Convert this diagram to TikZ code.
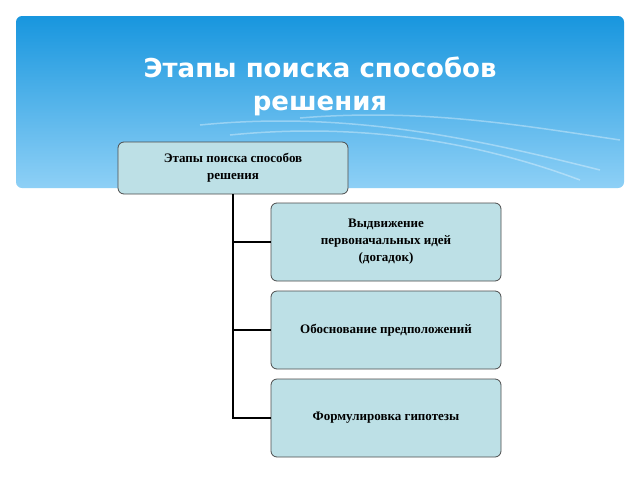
\documentclass[tikz,border=0pt]{standalone}
\usepackage{fontspec}
\setmainfont{Liberation Serif}
\newfontfamily\titlefont{DejaVu Sans}
\begin{document}
\begin{tikzpicture}[x=1pt,y=-1pt,
  box/.style={draw=black!70,line width=0.8pt,fill=boxfill,rounded corners=6pt,minimum width=230pt,align=center,font=\bfseries\fontsize{13}{17}\selectfont},
  conn/.style={line width=2pt,black}]
\definecolor{boxfill}{HTML}{BDE0E6}
\definecolor{bandtop}{HTML}{1896DE}
\definecolor{bandbot}{HTML}{8ED0F6}
\useasboundingbox (0,0) rectangle (640,480);
\fill[white] (0,0) rectangle (640,480);
\shade[top color=bandtop,bottom color=bandbot,rounded corners=6pt] (16,16) rectangle (624,188);
\begin{scope}[white,opacity=0.35,line width=1.5pt]
\draw (200,125) .. controls (350,110) and (480,140) .. (600,170);
\draw (230,135) .. controls (380,120) and (500,150) .. (580,180);
\draw (300,118) .. controls (420,108) and (520,125) .. (620,140);
\end{scope}
\node[white,align=center,font=\titlefont\bfseries\fontsize{26}{33}\selectfont] (title) at (320,86) {Этапы поиска способов\\решения};
\node[box,minimum height=52pt] (root) at (233,168) {Этапы поиска способов\\решения};
\node[box,minimum height=78pt] (a) at (386,242) {Выдвижение\\первоначальных идей\\(догадок)};
\node[box,minimum height=78pt] (b) at (386,330) {Обоснование предположений};
\node[box,minimum height=78pt] (c) at (386,418) {Формулировка гипотезы};
\draw[conn] (root.south) -- (root.south |- c.west) -- (c.west);
\draw[conn] (root.south |- a.west) -- (a.west);
\draw[conn] (root.south |- b.west) -- (b.west);
\end{tikzpicture}
\end{document}
